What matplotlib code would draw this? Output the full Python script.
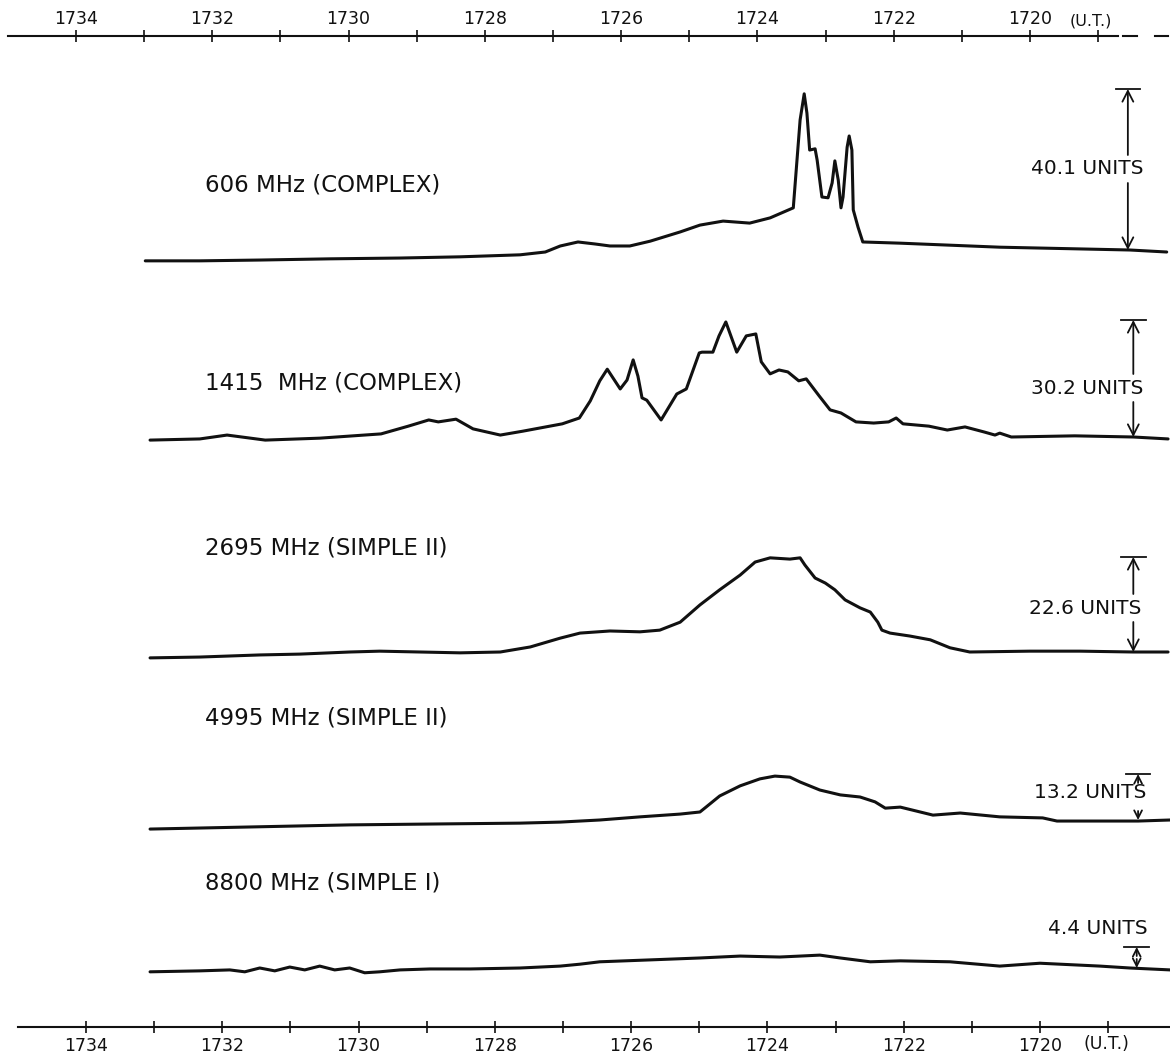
import matplotlib
matplotlib.use("Agg")
import matplotlib.pyplot as plt
from matplotlib.patches import FancyArrowPatch
from matplotlib.ticker import FixedLocator, NullFormatter

# ---- data: time in U.T. (hhmm read as minutes), flux in units above baseline
LABELS = [
    "606 MHz (COMPLEX)",
    "1415  MHz (COMPLEX)",
    "2695 MHz (SIMPLE II)",
    "4995 MHz (SIMPLE II)",
    "8800 MHz (SIMPLE I)",
]
PEAK_UNITS = [40.1, 30.2, 22.6, 13.2, 4.4]

T_606 = [1733.13, 1732.33, 1731.45, 1730.42, 1729.39, 1728.51, 1727.63, 1727.26,
         1727.04, 1726.78, 1726.53, 1726.31, 1726.02, 1725.72, 1725.28, 1724.99,
         1724.65, 1724.26, 1723.96, 1723.62, 1723.52, 1723.46, 1723.42, 1723.38,
         1723.30, 1723.27, 1723.20, 1723.11, 1723.05, 1723.01, 1722.96, 1722.92,
         1722.89, 1722.83, 1722.80, 1722.76, 1722.74, 1722.67, 1722.60, 1722.05,
         1720.59, 1718.68, 1718.14]
F_606 = [-2.7, -2.7, -2.5, -2.2, -2.0, -1.7, -1.2, -0.5, 1.0, 2.0, 1.5, 1.0, 1.0,
         2.2, 4.5, 6.2, 7.2, 6.7, 8.0, 10.5, 32.4, 38.9, 34.1, 24.9, 25.2, 22.4,
         13.2, 13.0, 16.7, 22.2, 17.4, 10.5, 13.2, 25.6, 28.4, 24.9, 10.0, 5.7,
         2.0, 1.7, 0.7, 0.0, -0.5]

T_1415 = [1733.06, 1732.33, 1731.93, 1731.37, 1730.57, 1729.67, 1729.27, 1728.97,
          1728.83, 1728.57, 1728.32, 1727.92, 1727.59, 1727.01, 1726.76, 1726.60,
          1726.46, 1726.35, 1726.16, 1726.06, 1725.97, 1725.90, 1725.84, 1725.77,
          1725.56, 1725.33, 1725.19, 1725.00, 1724.96, 1724.80, 1724.71, 1724.61,
          1724.45, 1724.31, 1724.17, 1724.09, 1723.96, 1723.83, 1723.70, 1723.54,
          1723.43, 1723.24, 1723.08, 1722.92, 1722.70, 1722.44, 1722.22, 1722.11,
          1722.01, 1721.63, 1721.36, 1721.10, 1720.82, 1720.66, 1720.59, 1720.42,
          1719.49, 1718.63, 1718.12]
F_1415 = [-0.8, -0.5, 0.5, -0.8, -0.3, 0.8, 2.8, 4.4, 3.9, 4.6, 2.1, 0.5, 1.5,
          3.4, 4.9, 9.3, 14.5, 17.5, 12.4, 14.7, 19.9, 15.7, 10.1, 9.5, 4.4, 11.1,
          12.4, 21.7, 21.9, 21.9, 26.1, 29.7, 21.9, 26.1, 26.6, 19.4, 16.3, 17.3,
          16.8, 14.5, 15.0, 10.6, 7.0, 6.2, 3.9, 3.6, 3.9, 4.9, 3.4, 2.8, 1.8, 2.6,
          1.3, 0.5, 1.0, 0.0, 0.3, 0.0, -0.5]

T_2695 = [1733.06, 1732.33, 1731.45, 1730.86, 1730.13, 1729.69, 1729.10, 1728.51,
          1727.92, 1727.48, 1727.04, 1726.75, 1726.31, 1725.87, 1725.58, 1725.28,
          1724.99, 1724.70, 1724.40, 1724.18, 1723.96, 1723.67, 1723.52, 1723.45,
          1723.30, 1723.15, 1723.01, 1722.86, 1722.64, 1722.49, 1722.38, 1722.32,
          1722.20, 1721.91, 1721.61, 1721.32, 1721.03, 1720.15, 1719.41, 1718.63,
          1718.12]
F_2695 = [-1.4, -1.2, -0.7, -0.5, 0.0, 0.2, 0.0, -0.2, 0.0, 1.2, 3.3, 4.5, 5.0,
          4.8, 5.2, 7.1, 11.2, 14.8, 18.3, 21.4, 22.4, 22.1, 22.4, 20.7, 17.6,
          16.4, 14.8, 12.4, 10.5, 9.5, 7.1, 5.2, 4.5, 3.8, 2.9, 1.0, 0.0, 0.2, 0.2,
          0.0, 0.0]

T_4995 = [1733.06, 1731.59, 1730.13, 1728.66, 1727.63, 1727.04, 1726.46, 1725.87,
          1725.28, 1724.99, 1724.92, 1724.70, 1724.40, 1724.11, 1723.89, 1723.67,
          1723.52, 1723.23, 1722.93, 1722.64, 1722.42, 1722.27, 1722.05, 1721.57,
          1721.17, 1720.59, 1719.96, 1719.75, 1718.56, 1718.09]
F_4995 = [-2.6, -2.0, -1.4, -1.1, -0.9, -0.6, 0.0, 0.9, 1.7, 2.3, 3.4, 6.9, 9.8,
          11.8, 12.6, 12.3, 10.9, 8.6, 7.2, 6.6, 5.2, 3.4, 3.7, 1.4, 2.0, 0.9, 0.6,
          -0.3, -0.3, 0.0]

T_8800 = [1733.06, 1732.33, 1731.89, 1731.67, 1731.45, 1731.23, 1731.01, 1730.79,
          1730.57, 1730.35, 1730.13, 1729.91, 1729.69, 1729.39, 1728.95, 1728.36,
          1727.63, 1727.04, 1726.75, 1726.46, 1725.72, 1724.99, 1724.40, 1723.82,
          1723.52, 1723.23, 1722.93, 1722.49, 1722.05, 1721.32, 1720.59, 1720.00,
          1719.12, 1718.68, 1718.09]
F_8800 = [-0.8, -0.6, -0.4, -0.8, 0.0, -0.6, 0.2, -0.4, 0.4, -0.4, 0.0, -1.0, -0.8,
          -0.4, -0.2, -0.2, 0.0, 0.4, 0.8, 1.3, 1.7, 2.1, 2.5, 2.3, 2.5, 2.7, 2.1,
          1.3, 1.5, 1.3, 0.4, 1.0, 0.4, 0.0, -0.4]

TIMES = [T_606, T_1415, T_2695, T_4995, T_8800]
FLUXES = [F_606, F_1415, F_2695, F_4995, F_8800]

MAJOR_TICKS = [1734, 1732, 1730, 1728, 1726, 1724, 1722, 1720]
MINOR_TICKS = [1733, 1731, 1729, 1727, 1725, 1723, 1721, 1719]

# ---- layout (figure pixels, y downwards)
W, H = 1170, 1059
PX_PER_MIN = 68.14
BOT_X0 = 86      # pixel of 1734 on lower scale
TOP_X0 = 76      # pixel of 1734 on upper scale (drawn slightly offset)
TOP_Y = 36
BOT_Y = 1027

BASE_Y = [250, 437, 652, 820, 968]
BAR_PX = [161, 117, 95, 46, 21]
LABEL_Y = [185, 383, 548, 718, 883]
ARROW_T = [1718.71, 1718.63, 1718.63, 1718.56, 1718.58]
UNIT_T = [1719.31, 1719.31, 1719.34, 1719.27, 1719.15]
UNIT_Y = [169, 388, 608, 793, 928]
LABEL_T = 1732.25

INK = "#111111"
FONT = "DejaVu Sans"


def xlim_for(x0):
    return (1734 + x0 / PX_PER_MIN, 1734 - (W - x0) / PX_PER_MIN)


def arrow(ax, t, y0, y1, scale=14):
    ax.add_patch(
        FancyArrowPatch(
            (t, y0), (t, y1),
            arrowstyle="->,head_length=0.55,head_width=0.28",
            mutation_scale=scale, lw=1.3, color=INK,
            shrinkA=0, shrinkB=0,
        )
    )


def time_scale(fig, y_px, x0, top, end_t):
    sub = fig.add_axes([0, 1 - y_px / H, 1, 1e-4])
    sub.set_xlim(*xlim_for(x0))
    sub.set_ylim(0, 1)
    sub.patch.set_visible(False)
    side = "top" if top else "bottom"
    for name, sp in sub.spines.items():
        sp.set_visible(name == side)
    sub.spines[side].set_linewidth(1.5)
    sub.spines[side].set_color(INK)
    sub.spines[side].set_bounds(1735.0, end_t)
    sub.xaxis.set_major_locator(FixedLocator(MAJOR_TICKS))
    sub.xaxis.set_minor_locator(FixedLocator(MINOR_TICKS))
    sub.xaxis.set_minor_formatter(NullFormatter())
    sub.set_yticks([])
    sub.tick_params(axis="x", which="both", direction="inout", length=9,
                    width=1.2, color=INK, top=top, bottom=not top,
                    labeltop=top, labelbottom=not top,
                    pad=1.5 if top else 3.0,
                    labelsize=12.5, labelcolor=INK)
    return sub


fig = plt.figure(figsize=(W / 100, H / 100), dpi=100)
fig.patch.set_facecolor("white")
ax = fig.add_axes([0, 0, 1, 1])
ax.set_xlim(*xlim_for(BOT_X0))
ax.set_ylim(H, 0)
ax.axis("off")

for i in range(len(TIMES)):
    ppu = BAR_PX[i] / PEAK_UNITS[i]
    ys = [BASE_Y[i] - f * ppu for f in FLUXES[i]]
    ax.plot(TIMES[i], ys, color=INK, lw=2.2, solid_joinstyle="round",
            solid_capstyle="round")
    ax.text(LABEL_T, LABEL_Y[i], LABELS[i], ha="left", va="center",
            fontsize=16.5, color=INK, family=FONT)

    top_y = BASE_Y[i] - BAR_PX[i]
    at = ARROW_T[i]
    ax.plot([at - 0.18, at + 0.18], [top_y, top_y], color=INK, lw=1.3)
    if BAR_PX[i] > 60:
        arrow(ax, at, UNIT_Y[i] - 14, top_y)
        arrow(ax, at, UNIT_Y[i] + 14, BASE_Y[i])
    else:
        arrow(ax, at, top_y + 9, top_y, scale=10)
        arrow(ax, at, BASE_Y[i] - 9, BASE_Y[i], scale=10)
    ax.text(UNIT_T[i], UNIT_Y[i], f"{PEAK_UNITS[i]} UNITS", ha="center",
            va="center", fontsize=14.5, color=INK, family=FONT)

# time scales, upper one drawn with its offset and dashed end
top_ax = time_scale(fig, TOP_Y, TOP_X0, True, 1718.71)
for a, b in [(1718.63, 1718.43), (1718.16, 1717.97)]:
    top_ax.plot([a, b], [1, 1], color=INK, lw=1.5, clip_on=False,
                transform=top_ax.get_xaxis_transform())
time_scale(fig, BOT_Y, BOT_X0, False, xlim_for(BOT_X0)[1])

ax.text(1719.26, 21, "(U.T.)", ha="center", va="center", fontsize=11.5,
        color=INK, family=FONT)
ax.text(1719.03, 1044, "(U.T.)", ha="center", va="center", fontsize=12.5,
        color=INK, family=FONT)

fig.savefig("out.png", dpi=100, facecolor="white")
